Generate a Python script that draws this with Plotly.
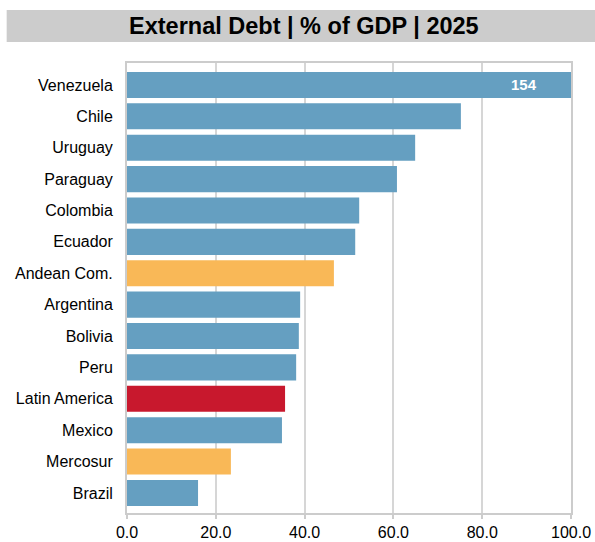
import plotly.graph_objects as go

# External debt as % of GDP, 2025 (top to bottom)
countries = ["Venezuela", "Chile", "Uruguay", "Paraguay", "Colombia", "Ecuador",
             "Andean Com.", "Argentina", "Bolivia", "Peru", "Latin America",
             "Mexico", "Mercosur", "Brazil"]
debt_pct = [154, 75.2, 64.9, 60.8, 52.3, 51.4, 46.6, 39.0, 38.7, 38.1, 35.6,
            34.9, 23.4, 16.0]
groups = ["country", "country", "country", "country", "country", "country",
          "bloc", "country", "country", "country", "region", "country",
          "bloc", "country"]

palette = {"country": "#659fc1", "bloc": "#f9b857", "region": "#c8182d"}
x_max = 100

fig = go.Figure(go.Bar(
    x=debt_pct,
    y=countries,
    orientation="h",
    marker=dict(color=[palette[g] for g in groups], line=dict(width=0)),
    hoverinfo="x+y",
))

# Value label for bars running past the axis limit
for name, val in zip(countries, debt_pct):
    if val > x_max:
        fig.add_annotation(
            x=x_max, y=name, xref="x", yref="y",
            text=f"<b>{val:g}</b>", showarrow=False,
            xanchor="right", xshift=-32,
            font=dict(family="Liberation Sans, Arial", size=15, color="white"),
        )

# Title banner
fig.add_shape(type="rect", xref="paper", yref="paper",
              x0=-0.271, x1=1.06, y0=1.0467, y1=1.1178,
              fillcolor="#cccccc", line=dict(width=0), layer="below")
fig.add_annotation(
    xref="paper", yref="paper", x=0.398, y=1.082,
    text="<b>External Debt | % of GDP | 2025</b>", showarrow=False,
    xanchor="center", yanchor="middle",
    font=dict(family="Liberation Sans, Arial", size=23.5, color="#000000"),
)

fig.update_layout(
    width=595, height=542,
    margin=dict(l=127, r=24, t=63, b=29, autoexpand=False),
    paper_bgcolor="white", plot_bgcolor="white",
    showlegend=False,
    bargap=0.17,
    font=dict(family="Liberation Sans, Arial", size=16, color="#000000"),
    xaxis=dict(
        range=[0, x_max], tickvals=[0, 20, 40, 60, 80, 100], tickformat=".1f",
        showgrid=True, gridcolor="#d6d6d6", gridwidth=1.5,
        showline=True, linecolor="#cccccc", linewidth=2, mirror=True,
        ticks="outside", ticklen=4, tickcolor="#cccccc", tickwidth=1.5,
        zeroline=False, fixedrange=True, automargin=False,
    ),
    yaxis=dict(
        type="category", categoryorder="array", categoryarray=countries,
        range=[13.64, -0.7],
        showgrid=False, showline=True, linecolor="#cccccc", linewidth=2,
        mirror=True, ticks="", ticklabelstandoff=9, fixedrange=True,
        automargin=False,
    ),
)

fig.write_html("out.html")
